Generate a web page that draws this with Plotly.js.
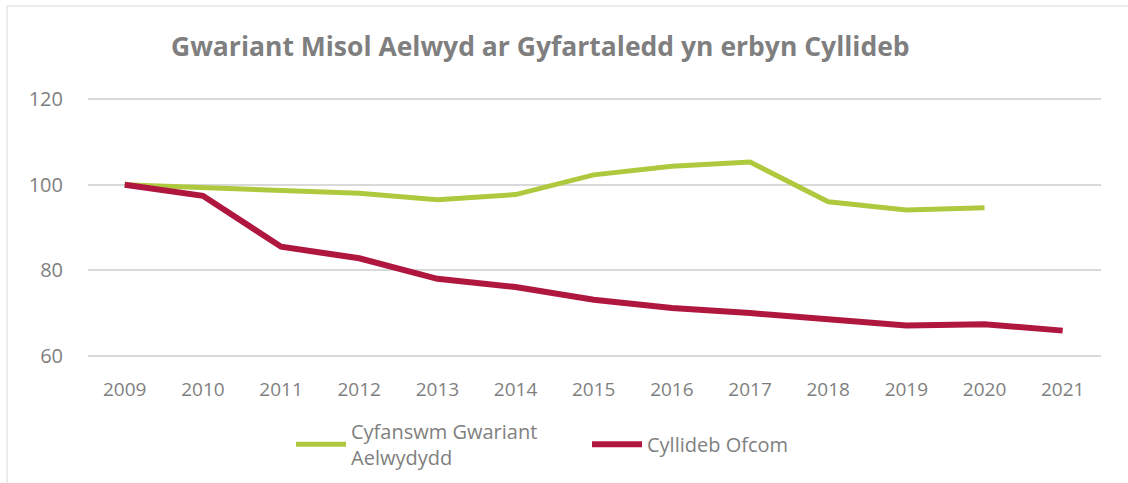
<!DOCTYPE html>
<html>
<head>
<meta charset="utf-8">
<script src="https://cdn.plot.ly/plotly-3.0.1.min.js"></script>
<style>
html,body{margin:0;padding:0;background:#fff;}
#wrap{position:relative;width:1128px;height:483px;}
#chart{position:absolute;left:0;top:0;width:1128px;height:483px;}
#frame{position:absolute;left:6px;top:5px;width:1122px;height:478px;box-sizing:border-box;border-top:2px solid #ececec;border-left:2px solid #ececec;pointer-events:none;}
</style>
</head>
<body>
<div id="wrap"><div id="chart"></div><div id="frame"></div></div>
<script>
const years = [2009,2010,2011,2012,2013,2014,2015,2016,2017,2018,2019,2020,2021];
const spendYears = [2009,2010,2011,2012,2013,2014,2015,2016,2017,2018,2019,2020];
const spendValues = [100,99.4,98.8,98.0,96.5,97.7,102.3,104.3,105.3,96.0,94.1,94.6];
const budgetValues = [100,97.4,85.5,82.8,78.0,76.1,73.1,71.2,70.0,68.4,67.1,67.4,65.9];
const seriesNames = ["Cyfanswm Gwariant<br>Aelwydydd", "Cyllideb Ofcom"];
const yTicks = [60,80,100,120];
const chartTitle = "Gwariant Misol Aelwyd ar Gyfartaledd yn erbyn Cyllideb";

const gray = "#7f7f7f";
const traces = [
  {x: spendYears, y: spendValues, name: seriesNames[0], type: "scatter", mode: "lines",
   line: {color: "#afc93f", width: 5}, legend: "legend"},
  {x: years, y: budgetValues, name: seriesNames[1], type: "scatter", mode: "lines",
   line: {color: "#b0173f", width: 6}, legend: "legend2"}
];
const legendBase = {orientation: "h", xanchor: "left", yanchor: "middle", y: -0.33,
                    font: {size: 20, color: gray}, itemwidth: 50, valign: "middle",
                    bgcolor: "rgba(0,0,0,0)"};
const layout = {
  width: 1128, height: 483,
  margin: {l: 88, r: 27, t: 97, b: 125, autoexpand: false},
  paper_bgcolor: "rgba(0,0,0,0)", plot_bgcolor: "rgba(0,0,0,0)",
  font: {family: "Open Sans, sans-serif", color: gray},
  title: {text: "<b>" + chartTitle + "</b>", x: 0.479, xanchor: "center", y: 0.903, yanchor: "middle",
          font: {family: "Open Sans, sans-serif", size: 26.5, color: gray}},
  xaxis: {range: [2008.53, 2021.49], tickvals: years, ticktext: years.map(String),
          showgrid: false, zeroline: false, showline: false, ticks: "", ticklabelstandoff: 18,
          tickfont: {size: 19, color: gray}, fixedrange: true},
  yaxis: {range: [59.5, 120.5], tickvals: yTicks, showgrid: true, gridcolor: "#d9d9d9", gridwidth: 2,
          zeroline: false, showline: false, ticks: "", ticklabelstandoff: 24,
          tickfont: {size: 20, color: gray}, fixedrange: true},
  showlegend: true,
  legend: Object.assign({}, legendBase, {x: 0.2004}),
  legend2: Object.assign({}, legendBase, {x: 0.4926})
};
Plotly.newPlot("chart", traces, layout, {displayModeBar: false, staticPlot: true});
</script>
</body>
</html>
